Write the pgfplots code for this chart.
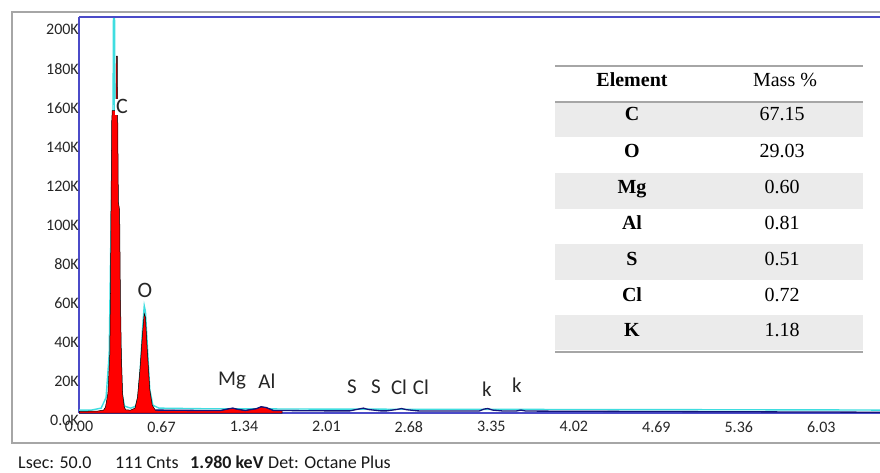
\documentclass[border=0pt]{standalone}
\usepackage{pgfplots}
\pgfplotsset{compat=1.18}
\usepackage{fontspec}
\setmainfont{Carlito}
\newfontfamily\tabfont{Liberation Serif}
\definecolor{axblue}{HTML}{4B4BC8}
\definecolor{cyanl}{HTML}{3FDDE0}
\definecolor{navy}{HTML}{14147A}
\definecolor{rowgray}{HTML}{EBEBEB}
\definecolor{rulegray}{HTML}{A6A6A6}
\begin{document}
\begin{tikzpicture}[x=1pt,y=1pt]
\path[use as bounding box] (0,0) rectangle (880,472);
% outer frame
\draw[rulegray, line width=1.8pt] (890,460) -- (12,460) -- (12,29) -- (890,29);
\begin{axis}[
  scale only axis, width=801pt, height=396pt,
  at={(79pt,59pt)}, anchor=south west,
  xmin=0, xmax=6.507, ymin=0, ymax=203000,
  axis x line*=bottom, axis y line*=left,
  axis line style={axblue, line width=1.3pt},
  xtick={0,0.67,1.34,2.01,2.68,3.35,4.02,4.69,5.36,6.03},
  xticklabels={0.00,0.67,1.34,2.01,2.68,3.35,4.02,4.69,5.36,6.03},
  ytick={0,20000,40000,60000,80000,100000,120000,140000,160000,180000,200000},
  yticklabels={0.0K,20K,40K,60K,80K,100K,120K,140K,160K,180K,200K},
  scaled y ticks=false,
  major tick length=0pt,
  tick label style={font=\fontsize{16}{18}\selectfont, text=black!85},
  yticklabel style={anchor=east, inner sep=1pt, xshift=1pt, yshift=-7pt},
  xticklabel style={anchor=north, inner sep=1pt, yshift=-7pt},
  clip=true,
]
% cyan spectrum (behind)
\addplot[cyanl, line width=1.4pt] table {
0.000 1500
0.100 1500
0.180 2500
0.220 8000
0.245 30000
0.262 104000
0.276 150000
0.282 230000
0.287 230000
0.292 150000
0.310 100000
0.330 50000
0.350 10000
0.370 3500
0.420 2500
0.460 3500
0.480 8000
0.500 25000
0.515 42000
0.530 55000
0.540 52000
0.555 35000
0.575 12000
0.600 4000
0.650 2500
1.000 2200
2.000 2000
3.000 1900
4.000 1800
5.000 1700
6.000 1600
6.507 1500
};
% red filled region
\addplot[fill=red, draw=black, line width=0.5pt] table {
0.000 800
0.150 1000
0.200 1500
0.215 3000
0.235 10000
0.250 30000
0.256 62000
0.260 104000
0.266 150000
0.270 155000
0.300 155000
0.303 183000
0.311 183000
0.314 155000
0.320 108000
0.330 104000
0.336 62000
0.344 30000
0.354 10000
0.368 3000
0.380 1600
0.420 1500
0.455 2500
0.475 8000
0.495 22000
0.515 40000
0.530 51000
0.540 49000
0.555 32000
0.575 12000
0.595 4000
0.620 1500
0.800 1400
1.000 1300
1.150 1300
1.220 2200
1.250 2500
1.280 2000
1.350 1300
1.440 2200
1.480 3200
1.520 2800
1.580 1300
1.650 1250
} \closedcycle;
% navy baseline
\addplot[navy, line width=1.3pt] table {
0.620 1500
0.800 1400
1.000 1300
1.150 1300
1.220 2200
1.250 2500
1.280 2000
1.350 1300
1.440 2200
1.480 3200
1.520 2800
1.580 1300
1.800 1200
2.000 1100
2.200 1100
2.270 2000
2.310 2500
2.350 1800
2.450 1100
2.500 1100
2.580 1800
2.620 2300
2.660 1700
2.750 1100
2.800 1000
3.000 1000
3.250 1000
3.290 2000
3.320 2300
3.360 1500
3.450 1000
3.550 1000
3.590 1500
3.630 1000
4.000 900
4.500 800
5.000 700
5.500 600
6.000 500
6.507 400
};
\begin{scope}[every node/.style={font=\fontsize{21}{23}\selectfont, text=black!85, inner sep=1pt}]
\node[fill=white, font=\fontsize{22}{24}\selectfont] at (axis cs:0.349,157000) {C};
\node[fill=white, font=\fontsize{22}{24}\selectfont] at (axis cs:0.536,63000) {O};
\node at (axis cs:1.243,16400) {Mg};
\node at (axis cs:1.527,16400) {Al};
\node at (axis cs:2.218,13300) {S};
\node at (axis cs:2.413,13300) {S};
\node at (axis cs:2.600,13300) {Cl};
\node at (axis cs:2.778,13300) {Cl};
\node at (axis cs:3.314,12300) {k};
\node at (axis cs:3.558,14400) {k};
\end{scope}
\end{axis}
% top axis line
\draw[axblue, line width=1.3pt] (79,455) -- (890,455);
% table
\fill[rowgray] (555,335) rectangle (863,370);
\fill[rowgray] (555,263) rectangle (863,299);
\fill[rowgray] (555,192) rectangle (863,228);
\fill[rowgray] (555,122) rectangle (863,157);
\draw[rulegray, line width=1.6pt] (555,406) -- (863,406);
\draw[rulegray, line width=1.6pt] (555,370) -- (863,370);
\draw[rulegray, line width=1.6pt] (555,120) -- (863,120);
\begin{scope}[every node/.style={font=\tabfont\fontsize{20}{23}\selectfont, anchor=base, inner sep=0pt}]
\node at (632,385) {\bfseries Element};
\node at (785,385) {Mass \%};
\node at (632,351) {\bfseries C};
\node at (782,351) {67.15};
\node at (632,314) {\bfseries O};
\node at (782,314) {29.03};
\node at (632,279) {\bfseries Mg};
\node at (782,279) {0.60};
\node at (632,243) {\bfseries Al};
\node at (782,243) {0.81};
\node at (632,207) {\bfseries S};
\node at (782,207) {0.51};
\node at (632,171) {\bfseries Cl};
\node at (782,171) {0.72};
\node at (632,136) {\bfseries K};
\node at (782,136) {1.18};
\end{scope}
% bottom status text
\begin{scope}[every node/.style={font=\fontsize{18}{20}\selectfont, anchor=base west, inner sep=0pt, text=black!90}]
\node at (18,4) {Lsec: 50.0};
\node at (115,4) {111 Cnts};
\node at (190,4) {\bfseries 1.980 keV};
\node at (268,4) {Det: Octane Plus};
\end{scope}
\end{tikzpicture}
\end{document}
